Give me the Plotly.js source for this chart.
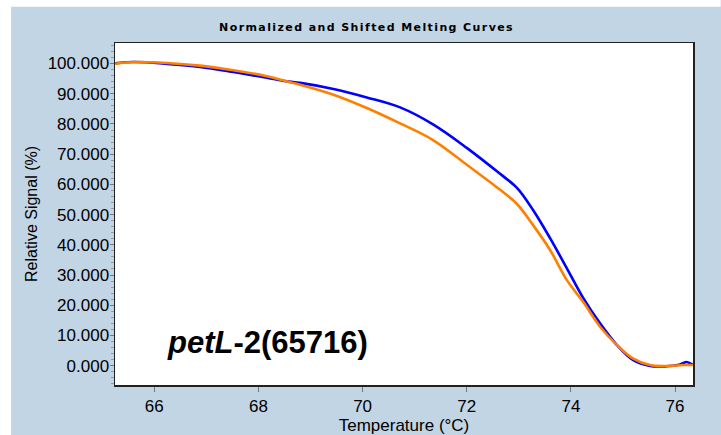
<!DOCTYPE html>
<html>
<head>
<meta charset="utf-8">
<script src="https://cdn.plot.ly/plotly-3.0.1.min.js"></script>
<style>html,body{margin:0;padding:0;background:#fff;}#chart{width:721px;height:435px;}</style>
</head>
<body>
<div id="chart"></div>
<script>
// Temperatures (°C)
const tempBlue = [65.25, 65.6, 66.24, 66.88, 67.52, 68.16, 68.54, 68.8, 69.44, 70.08, 70.72, 71.36, 72.0, 72.64, 72.96, 73.27, 73.6, 73.92, 74.23, 74.56, 74.88, 75.19, 75.52, 75.84, 76.05, 76.15, 76.22, 76.35];
const signalBlue = [100.1, 100.5, 99.9, 98.9, 97.2, 95.3, 94.1, 93.6, 91.6, 88.8, 85.5, 79.8, 72.1, 63.5, 58.9, 51.6, 42.2, 32.3, 22.6, 14.0, 6.9, 1.9, -0.1, -0.2, 0.2, 0.8, 1.2, 0.3];
const tempOrange = [65.25, 65.6, 66.24, 66.88, 67.52, 68.16, 68.54, 68.8, 69.44, 70.08, 70.72, 71.36, 72.0, 72.64, 72.96, 73.27, 73.6, 73.92, 74.23, 74.56, 74.88, 75.19, 75.52, 75.84, 76.15, 76.35];
const signalOrange = [99.9, 100.5, 100.2, 99.3, 97.8, 95.8, 94.1, 93.0, 89.7, 85.3, 80.2, 74.6, 66.5, 58.2, 53.6, 46.6, 38.3, 28.4, 21.2, 12.9, 6.9, 2.4, 0.2, -0.1, 0.2, 0.2];
const xTicks = [66, 68, 70, 72, 74, 76];
const yTicks = [0, 10, 20, 30, 40, 50, 60, 70, 80, 90, 100];
const titleText = "Normalized and Shifted Melting Curves";
const xTitle = "Temperature (°C)";
const yTitle = "Relative Signal (%)";
const label = "<i>petL</i>-2(65716)";

const bg = "#c2d5e5";
const W = 721, H = 435;
const L = 115, R = 721 - 693.3, T = 43.3, B = 435 - 385;
const pw = W - L - R, ph = H - T - B;
const px = v => (v - L) / pw;
const py = v => (H - B - v) / ph;

const traces = [
  {x: tempBlue, y: signalBlue, type: "scatter", mode: "lines", line: {color: "#0000ff", width: 2.6, shape: "spline", smoothing: 1.0}, hoverinfo: "skip"},
  {x: tempOrange, y: signalOrange, type: "scatter", mode: "lines", line: {color: "#ff8000", width: 2.6, shape: "spline", smoothing: 1.0}, hoverinfo: "skip"}
];

const layout = {
  width: W, height: H,
  margin: {l: L, r: R, t: T, b: B, pad: 0},
  paper_bgcolor: bg,
  plot_bgcolor: "#ffffff",
  showlegend: false,
  font: {family: "Liberation Sans, Arial, sans-serif", color: "#000"},
  xaxis: {
    range: [65.245, 76.345], tickvals: xTicks, ticktext: xTicks.map(String),
    ticks: "outside", ticklen: 5, tickcolor: "#777", tickwidth: 1,
    tickfont: {size: 17}, showgrid: false, zeroline: false,
    showline: true, linecolor: "#222", linewidth: 1.5, mirror: true,
    title: {text: xTitle, font: {size: 17}, standoff: 2}
  },
  yaxis: {
    range: [-6.4, 106.8], tickvals: yTicks, ticktext: yTicks.map(v => v.toFixed(3)),
    ticks: "outside", ticklen: 4, tickcolor: "#777", tickwidth: 1,
    ticklabelstandoff: -3,
    minor: {dtick: 2, ticks: "outside", ticklen: 3, tickcolor: "#999", showgrid: false},
    tickfont: {size: 17}, showgrid: false, zeroline: false,
    showline: true, linecolor: "#222", linewidth: 1.5, mirror: true,
    title: {text: yTitle, font: {size: 16}, standoff: 6}
  },
  shapes: [
    {type: "rect", xref: "paper", yref: "paper", x0: px(0), x1: px(W), y0: py(0), y1: py(7), fillcolor: "#ffffff", line: {width: 0}, layer: "below"},
    {type: "rect", xref: "paper", yref: "paper", x0: px(0), x1: px(11), y0: py(0), y1: py(H), fillcolor: "#ffffff", line: {width: 0}, layer: "below"}
  ],
  annotations: [
    {text: "<b>" + titleText + "</b>", xref: "paper", yref: "paper", x: px(367.5), y: py(28), xanchor: "center", yanchor: "middle", showarrow: false, font: {family: "DejaVu Sans, sans-serif", size: 11, color: "#000"}, name: "charttitle"},
    {text: "<b>" + label + "</b>", xref: "paper", yref: "paper", x: px(165), y: py(343), xanchor: "left", yanchor: "middle", showarrow: false, font: {size: 31, family: "Liberation Sans, Arial, sans-serif", color: "#000"}}
  ]
};

Plotly.newPlot("chart", traces, layout, {displayModeBar: false, staticPlot: true}).then(function () {
  const t = document.querySelectorAll(".annotation-text");
  if (t.length) { t[0].style.letterSpacing = "1.4px"; }
});
</script>
</body>
</html>
